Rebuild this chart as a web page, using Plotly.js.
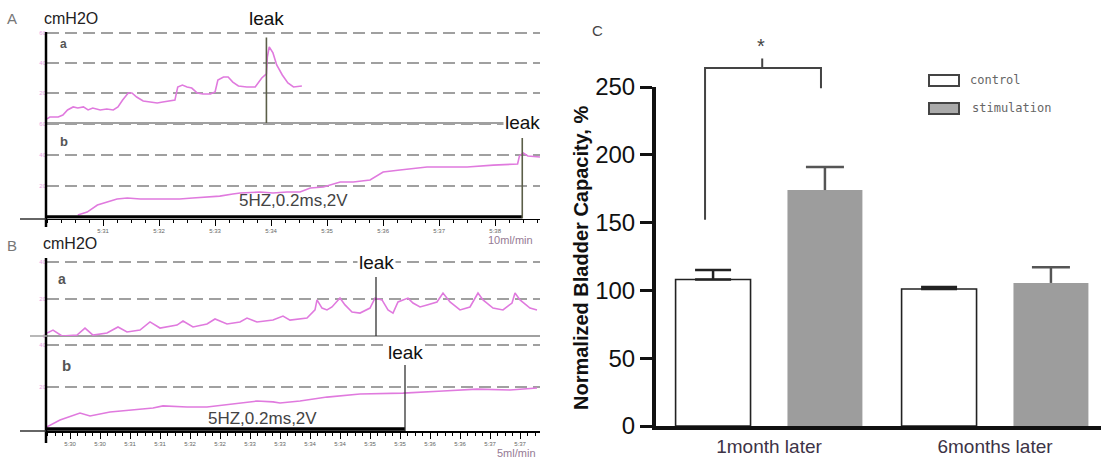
<!DOCTYPE html>
<html><head><meta charset="utf-8">
<script src="https://cdn.plot.ly/plotly-3.0.1.min.js"></script>
<style>html,body{margin:0;padding:0;background:#fff}#chart{width:1101px;height:462px}</style>
</head><body><div id="chart"></div>
<script>
// ---------- DATA ----------
// Panel A, trace a (time s, pressure cmH2O)
const tAa = [0,3,12,17,22,28,33,39,44,49,57,64,71,76,81,87,91,96,103,110,118,124,132,137,140,145,150,155,161,167,175,180,183,189,194,199,205,214,223,226,230,235,236,238,242,246,252,258,264,273];
const pAa = [2.7,4,4,5.3,8.7,10.7,10,10.7,8.7,10,8.7,9.3,8.7,10.7,15.3,20,20,17.3,14.7,14,13.3,14,14.7,15.3,24,25.3,24,23.3,20,19.3,19.3,20.7,28.7,30.7,30.7,27.3,24.7,24,24,26.7,30,32.7,44,50.7,46.7,38.7,32,26.7,24,24.7];
// Panel A, trace b
const tAb = [33,43,54,64,75,86,100,114,129,142,156,171,185,199,207,228,242,257,271,282,296,314,328,346,355,360,378,407,429,450,478,504,506,510,515,528];
const pAb = [1.3,3.2,7.7,9.7,11.6,12.3,11.6,11.6,11.6,11.6,12.3,12.9,13.5,14.8,15.5,16.1,15.5,16.1,16.1,18.7,19.4,22.6,22.6,23.9,27.1,29,30.3,32.3,32.3,32.3,33.5,34.2,39.4,41.3,39.4,38.7];
// Panel B, trace a
const tBa = [0,6,15,30,38,46,60,71,80,93,103,113,130,136,146,160,168,180,193,200,210,226,236,243,260,268,270,275,280,285,293,298,305,313,323,328,335,341,346,351,356,361,366,373,380,390,396,403,413,423,431,436,446,456,465,468,473,483,490];
const pBa = [1.6,3.2,0,0.5,4.3,0.5,1.6,4.9,2.2,3.2,7.6,4.3,5.9,8.1,4.9,6.5,9.2,6.5,7.6,9.7,7.6,8.6,10.8,8.6,9.7,14.1,19.5,15.1,14.1,15.7,20.5,16.8,13,12.4,15.1,20.5,19.5,14.1,12.4,18.4,19.5,20.5,17.8,15.7,16.8,18.4,23.2,18.4,14.1,15.7,23.2,19.5,15.1,14.1,17.8,23.2,19.5,15.1,14.1];
// Panel B, trace b
const tBb = [0,13,33,43,63,86,106,116,140,160,186,210,226,233,253,280,313,356,396,430,463,490];
const pBb = [1,4.3,7.6,6.2,8.1,9,10,11,10.5,10.5,11.9,13.3,12.9,12.4,13.3,15.2,16.7,17.1,18.1,19,18.6,19.5];
// leak events: time and marker height (cmH2O)
const leakTimesA = [235, 509];
const leakTopsA  = [57, 51];
const leakTimesB = [329, 358];
const leakTopsB  = [31.9, 30.5];
// time rulers
const rulerA = [60,120,180,240,300,360,420,480];
const rulerALabels = ['5:31','5:32','5:33','5:34','5:35','5:36','5:37','5:38'];
const rulerB = [23,53,83,113,143,173,203,233,263,293,323,353,383,413,443,473];
const rulerBLabels = ['5:30','5:30','5:31','5:31','5:32','5:32','5:33','5:33','5:34','5:34','5:35','5:35','5:36','5:36','5:37','5:37'];
// Panel C
const groups = ['1month later', '6months later'];
const ctrl = [108, 101];
const ctrlErr = [7, 1.5];
const stim = [174, 105.5];
const stimErr = [17, 11.5];
const sigX = [-0.283, -0.283, 0.23, 0.23, null, -0.03, -0.03];
const sigY = [152, 264, 264, 249, null, 264, 271];
const starPos = [-0.035, 280];

// ---------- helpers (layout positions) ----------
const W = 1101, H = 462;
const X = px => px / W;
const Y = py => 1 - py / H;
const FONT = 'Liberation Sans, Arial, sans-serif';
const PINK = '#e07ade';
const GRID = '#a0a0a0';
const STIM = '#9d9d9d';

const pink = (x, y, xa, ya) => ({x, y, xaxis: xa, yaxis: ya, type: 'scatter', mode: 'lines',
  line: {color: PINK, width: 1.6}, hoverinfo: 'skip', showlegend: false});

const traces = [
  pink(tAa, pAa, 'x', 'y'),
  pink(tAb, pAb, 'x2', 'y2'),
  pink(tBa, pBa, 'x3', 'y3'),
  pink(tBb, pBb, 'x4', 'y4'),
  {type: 'bar', x: groups, y: ctrl, xaxis: 'x5', yaxis: 'y5', name: 'control', offsetgroup: 'c', showlegend: false,
   marker: {color: '#ffffff', line: {color: '#222', width: 1.6}},
   error_y: {type: 'data', array: ctrlErr, arrayminus: [0, 0], symmetric: false, color: '#222', thickness: 2.5, width: 18}},
  {type: 'bar', x: groups, y: stim, xaxis: 'x5', yaxis: 'y5', name: 'stimulation', offsetgroup: 's', showlegend: false,
   marker: {color: STIM, line: {color: STIM, width: 0}}},
  // upper error bars of the stimulation group: thin stem from the bar top, capped at its end
  {type: 'bar', x: groups, y: stimErr, base: stim, width: 0.011, xaxis: 'x5', yaxis: 'y5', name: 'stimulation SEM',
   offsetgroup: 's', showlegend: false, marker: {color: '#555', line: {width: 0}},
   error_y: {type: 'data', array: [0, 0], arrayminus: [0, 0], symmetric: false, color: '#555', thickness: 2.5, width: 19}},
  {type: 'scatter', mode: 'lines', x: sigX, y: sigY, xaxis: 'x6', yaxis: 'y6', showlegend: false,
   line: {color: '#444', width: 2}, hoverinfo: 'skip', connectgaps: false}
];

const leftDom = [X(47), X(540)];
const gridY = (dom, range, vals, texts, zl) => ({
  domain: dom, range: range, tickmode: 'array', tickvals: vals, ticktext: texts, showgrid: true, gridcolor: GRID,
  gridwidth: 1.5, griddash: '12px,6px', zeroline: zl, zerolinecolor: GRID, zerolinewidth: 1.5,
  showline: false, ticks: '', tickfont: {size: 6, color: '#e9a3e6', family: FONT}, fixedrange: true
});
const hiddenX = (range, anchor) => ({domain: leftDom, range: range, anchor: anchor, showgrid: false,
  zeroline: false, showline: false, showticklabels: false, ticks: '', fixedrange: true});
const rulerX = (range, anchor, vals, labels, minorStep, tick0) => ({domain: leftDom, range: range, anchor: anchor,
  showgrid: false, zeroline: false, showline: true, linecolor: '#000', linewidth: 1.5,
  tickmode: 'array', tickvals: vals, ticktext: labels, ticks: 'outside', ticklen: 6, tickwidth: 1, tickcolor: '#000',
  tickfont: {size: 6, color: '#666', family: FONT},
  minor: {ticks: 'outside', ticklen: 3, tickcolor: '#000', tickwidth: 1, tickmode: 'linear', tick0: tick0, dtick: minorStep},
  fixedrange: true});

const ann = (text, x, y, opts) => Object.assign({text: text, x: x, y: y, xref: 'paper', yref: 'paper',
  showarrow: false, xanchor: 'center', yanchor: 'middle', font: {family: FONT, size: 14, color: '#222'}}, opts || {});

const annotations = [
  ann('A', X(12), Y(18), {font: {family: FONT, size: 15, color: '#777'}}),
  ann('cmH2O', X(71), Y(18), {font: {family: FONT, size: 16, color: '#222'}}),
  ann('a', X(63), Y(44), {font: {family: FONT, size: 12, color: '#555', weight: 'bold'}}),
  ann('b', X(64), Y(142), {font: {family: FONT, size: 13, color: '#555', weight: 'bold'}}),
  ann('5HZ,0.2ms,2V', X(293), Y(200), {font: {family: FONT, size: 17, color: '#444'}}),
  ann('10ml/min', X(510), Y(240), {font: {family: FONT, size: 11, color: '#957a94'}}),
  ann('B', X(12), Y(245), {font: {family: FONT, size: 15, color: '#777'}}),
  ann('cmH2O', X(70), Y(243), {font: {family: FONT, size: 16, color: '#222'}}),
  ann('a', X(62), Y(279), {font: {family: FONT, size: 14, color: '#555', weight: 'bold'}}),
  ann('b', X(66), Y(365), {font: {family: FONT, size: 15, color: '#555', weight: 'bold'}}),
  ann('5HZ,0.2ms,2V', X(262), Y(418), {font: {family: FONT, size: 17, color: '#444'}}),
  ann('5ml/min', X(516), Y(453), {font: {family: FONT, size: 11, color: '#957a94'}}),
  // leak labels
  ann('leak', leakTimesA[0], Y(18), {xref: 'x', bgcolor: '#fff', font: {family: FONT, size: 19, color: '#111'}}),
  ann('leak', leakTimesA[1], Y(122), {xref: 'x2', bgcolor: '#fff', font: {family: FONT, size: 19, color: '#111'}}),
  ann('leak', leakTimesB[0], Y(262), {xref: 'x3', bgcolor: '#fff', font: {family: FONT, size: 19, color: '#111'}}),
  ann('leak', leakTimesB[1], Y(352), {xref: 'x4', bgcolor: '#fff', font: {family: FONT, size: 19, color: '#111'}}),
  // panel C
  ann('C', X(597), Y(30), {font: {family: FONT, size: 15, color: '#444'}}),
  ann('Normalized Bladder Capacity, %', X(581), Y(258), {textangle: -90, font: {family: FONT, size: 20, color: '#111', weight: 'bold'}}),
  ann('*', starPos[0], starPos[1], {xref: 'x6', yref: 'y6', font: {family: FONT, size: 20, color: '#444'}}),
  ann('control', X(968), Y(80), {xanchor: 'left', font: {family: 'DejaVu Sans Mono, monospace', size: 12, color: '#666'}}),
  ann('stimulation', X(970), Y(108), {xanchor: 'left', font: {family: 'DejaVu Sans Mono, monospace', size: 12, color: '#666'}})
];

const pline = (x0, y0, x1, y1, color, width) => ({type: 'line', xref: 'paper', yref: 'paper',
  x0: X(x0), y0: Y(y0), x1: X(x1), y1: Y(y1), line: {color: color, width: width}});

const shapes = [
  pline(46, 32, 46, 227, '#000', 2.5),
  pline(46, 258, 46, 443, '#000', 2.5),
  pline(20, 219, 46, 219, '#333', 1.5),
  pline(20, 431, 46, 431, '#333', 1.5),
  pline(30, 336, 47, 336, GRID, 1.5),
  // thick baselines up to the leak
  {type: 'line', xref: 'x2', yref: 'y2', x0: 0, x1: leakTimesA[1], y0: 0, y1: 0, line: {color: '#000', width: 3.5}},
  {type: 'line', xref: 'x4', yref: 'y4', x0: 0, x1: leakTimesB[1], y0: 0, y1: 0, line: {color: '#000', width: 3.5}},
  // leak markers
  {type: 'line', xref: 'x', yref: 'y', x0: leakTimesA[0], x1: leakTimesA[0], y0: 0, y1: leakTopsA[0], line: {color: '#5b5e48', width: 1.6}},
  {type: 'line', xref: 'x2', yref: 'y2', x0: leakTimesA[1], x1: leakTimesA[1], y0: -1, y1: leakTopsA[1], line: {color: '#5b5e48', width: 1.6}},
  {type: 'line', xref: 'x3', yref: 'y3', x0: leakTimesB[0], x1: leakTimesB[0], y0: 0, y1: leakTopsB[0], line: {color: '#333', width: 1.3}},
  {type: 'line', xref: 'x4', yref: 'y4', x0: leakTimesB[1], x1: leakTimesB[1], y0: -1, y1: leakTopsB[1], line: {color: '#333', width: 1.3}},
  // legend boxes
  {type: 'rect', xref: 'paper', yref: 'paper', x0: X(929), x1: X(959), y0: Y(86), y1: Y(75), fillcolor: '#fff', line: {color: '#444', width: 2}},
  {type: 'rect', xref: 'paper', yref: 'paper', x0: X(929), x1: X(959), y0: Y(114), y1: Y(103), fillcolor: '#aaa', line: {color: '#444', width: 2}}
];

const layout = {
  width: W, height: H, margin: {l: 0, r: 0, t: 0, b: 0},
  paper_bgcolor: '#fff', plot_bgcolor: 'rgba(0,0,0,0)',
  font: {family: FONT, color: '#222'},
  showlegend: false, hovermode: false,
  barmode: 'group', bargap: 0.01, bargroupgap: 0.33,
  xaxis: hiddenX([0, 528], 'y'),
  yaxis: Object.assign(gridY([Y(123), Y(30.75)], [0, 61.5], [0, 20, 40, 60], ['', '20', '40', '60'], true), {anchor: 'x'}),
  xaxis2: rulerX([0, 528], 'y2', rulerA, rulerALabels, 15, 0),
  yaxis2: Object.assign(gridY([Y(218.55), Y(122.45)], [-1, 61], [20, 40, 60], ['20', '40', '60'], false), {anchor: 'x2'}),
  xaxis3: hiddenX([0, 493], 'y3'),
  yaxis3: Object.assign(gridY([Y(336), Y(258.3)], [0, 42], [0, 20, 40], ['0', '20', '40'], true), {anchor: 'x3'}),
  xaxis4: rulerX([0, 493], 'y4', rulerB, rulerBLabels, 7.5, 23),
  yaxis4: Object.assign(gridY([Y(431.1), Y(343.95)], [-1, 40.5], [20, 40], ['20', '40'], false), {anchor: 'x4'}),
  xaxis5: {domain: [X(656), 1], anchor: 'y5', type: 'category', range: [-0.5, 1.469],
    showline: true, linewidth: 4, linecolor: '#111', ticks: '', showgrid: false, zeroline: false,
    tickfont: {family: FONT, size: 19, color: '#3d3346'}, fixedrange: true},
  yaxis5: {domain: [Y(426), Y(87)], anchor: 'x5', range: [0, 250], tickmode: 'array', tickvals: [0, 50, 100, 150, 200, 250],
    showline: true, linewidth: 4, linecolor: '#111', ticks: 'outside', ticklen: 12, tickwidth: 3, tickcolor: '#111',
    showgrid: false, zeroline: false, tickfont: {family: FONT, size: 24, color: '#111'}, fixedrange: true},
  xaxis6: {domain: [X(656), 1], anchor: 'y6', range: [-0.5, 1.469], visible: false, fixedrange: true},
  yaxis6: {domain: [Y(426), Y(30)], anchor: 'x6', range: [0, 292], visible: false, fixedrange: true},
  annotations: annotations,
  shapes: shapes
};

Plotly.newPlot('chart', traces, layout, {displayModeBar: false, staticPlot: true});
</script>
</body></html>
